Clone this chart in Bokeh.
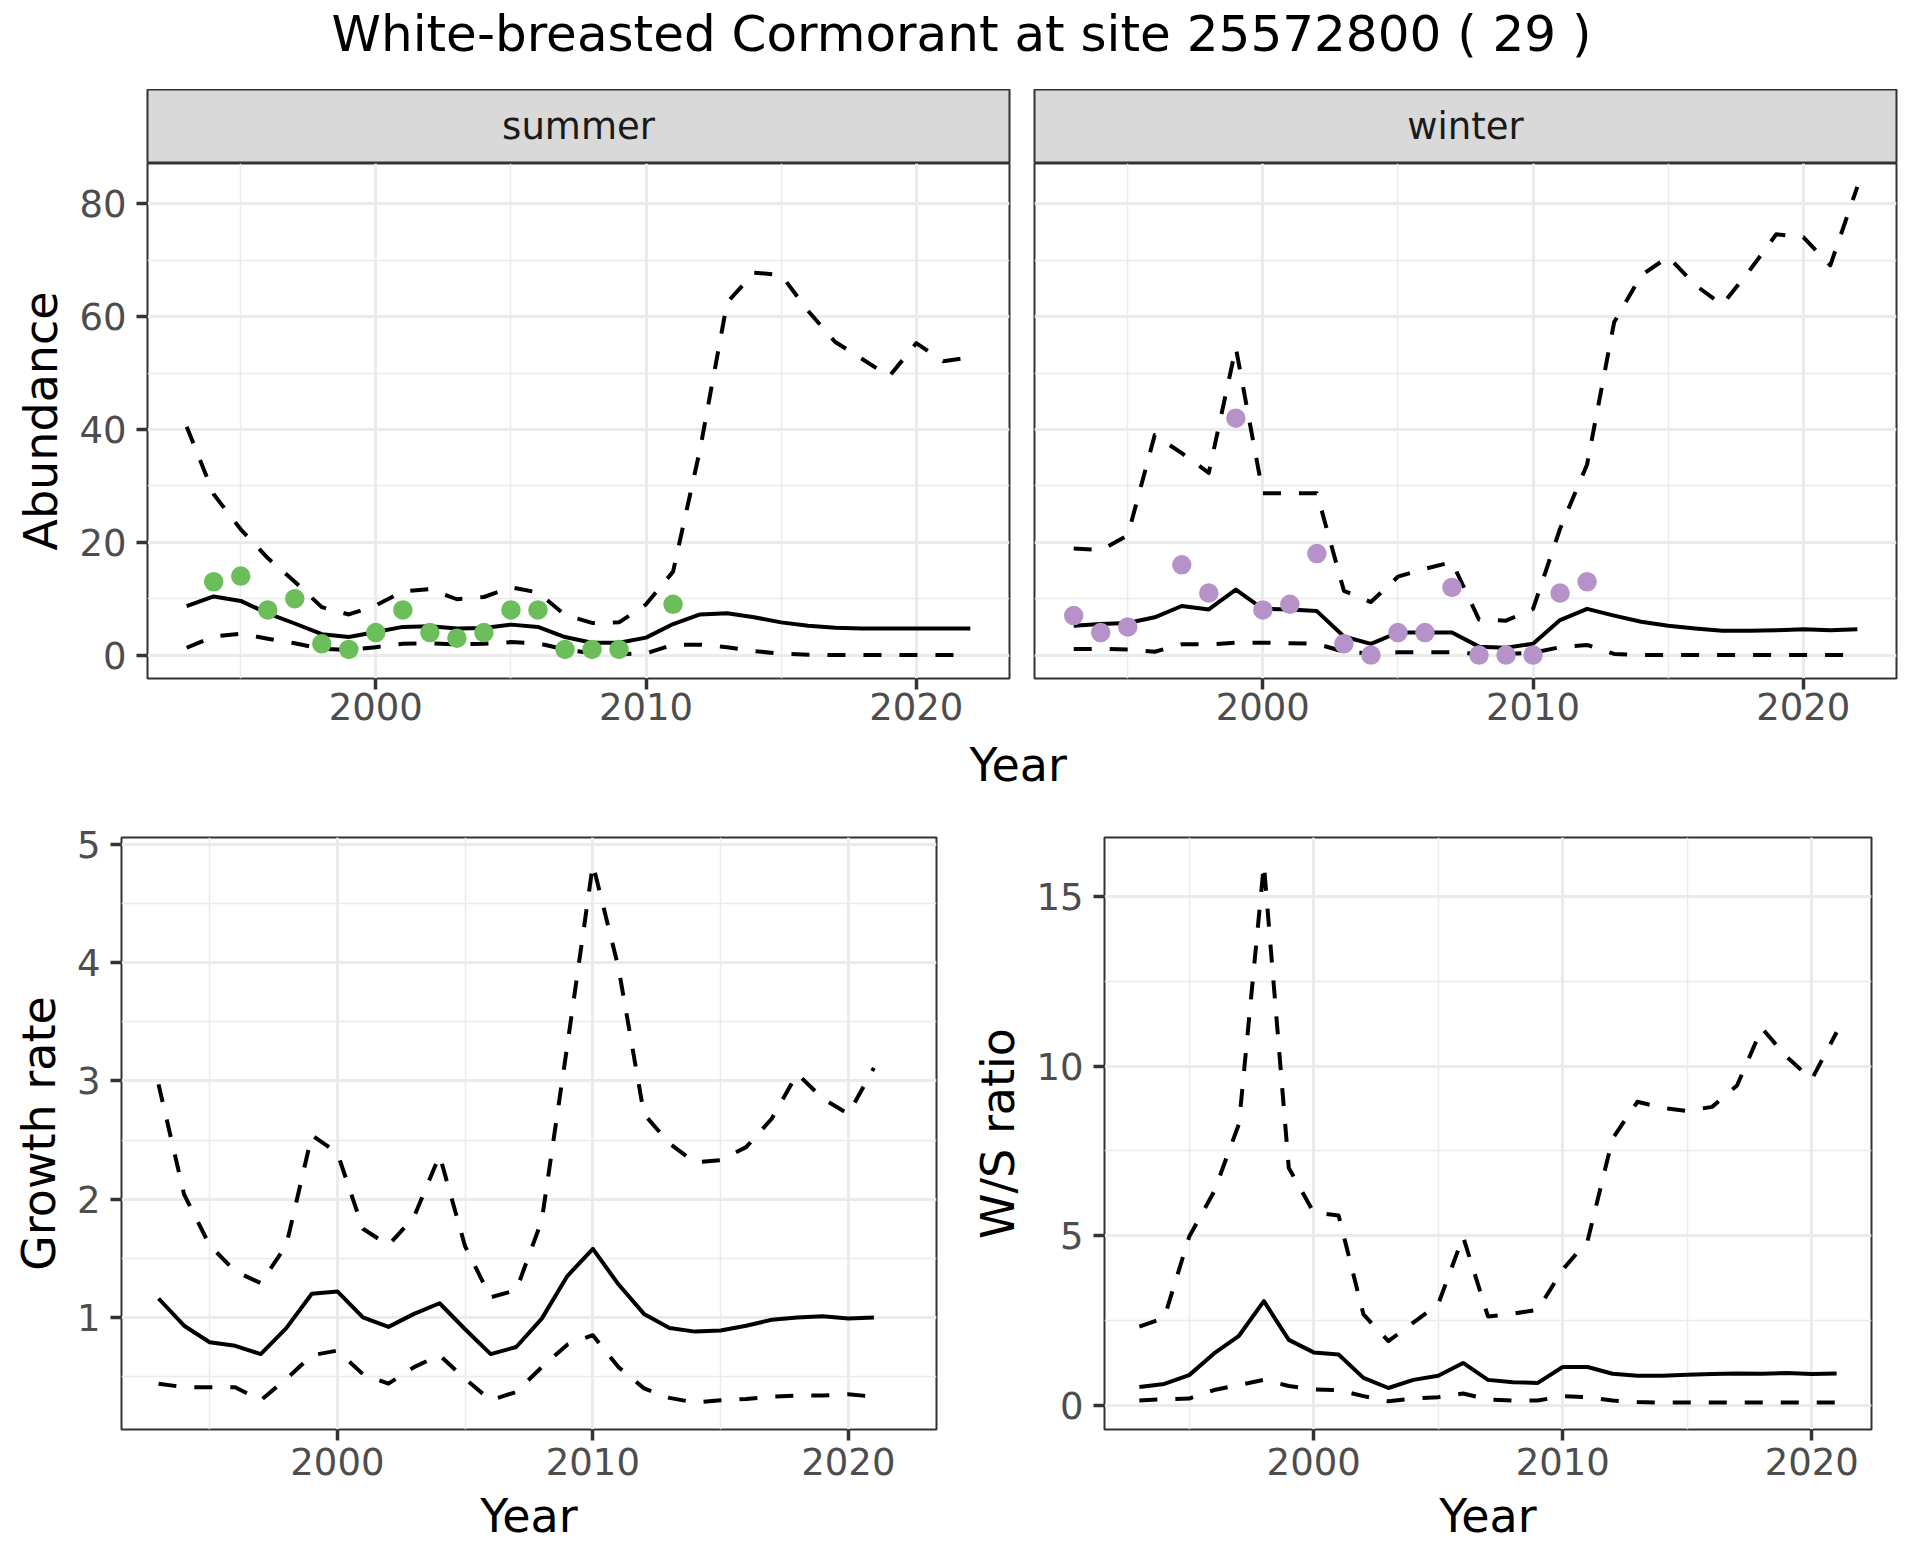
from bokeh.plotting import figure
from bokeh.models import Range1d, FixedTicker, Label
from bokeh.layouts import column, row
from bokeh.embed import file_html
from bokeh.resources import INLINE

# ---------------- data ----------------
title_text = "White-breasted Cormorant at site 25572800 ( 29 )"
facet_labels = ["summer", "winter"]

years = list(range(1993, 2023))
ratio_years = list(range(1993, 2022))

summer_mean = [8.7, 10.4, 9.6, 7.4, 5.6, 3.7, 3.2, 4.1, 5.0, 5.1, 4.7, 4.8, 5.4, 5.0, 3.2,
               2.2, 2.2, 3.1, 5.5, 7.2, 7.4, 6.7, 5.8, 5.2, 4.85, 4.7, 4.7, 4.7, 4.7, 4.7]
summer_upper = [40.5, 28.5, 22.3, 17.2, 13.0, 8.5, 7.2, 8.8, 11.3, 11.7, 9.9, 10.3, 12.0, 11.1, 7.1,
                5.7, 5.8, 9.0, 14.8, 36.5, 62.5, 67.8, 67.4, 61.0, 55.5, 52.5, 49.4, 55.3, 52.1, 52.8]
summer_lower = [1.3, 3.3, 3.8, 2.9, 2.1, 1.1, 0.9, 1.4, 2.0, 2.1, 1.9, 2.0, 2.3, 2.1, 1.0,
                0.35, 0.15, 0.3, 1.85, 1.85, 1.4, 0.7, 0.25, 0.05, 0.0, 0.0, 0.0, 0.0, 0.0, 0.0]
summer_obs_year = [1994, 1995, 1996, 1997, 1998, 1999, 2000, 2001, 2002, 2003, 2004, 2005,
                   2006, 2007, 2008, 2009, 2011]
summer_obs = [13, 14, 8, 10, 2, 1, 4, 8, 4, 3, 4, 8, 8, 1, 1, 1, 9]

winter_mean = [5.2, 5.5, 5.7, 6.7, 8.7, 8.1, 11.6, 8.2, 8.1, 7.8, 3.3, 2.0, 4.0, 4.0, 4.0,
               1.5, 1.3, 2.0, 6.2, 8.2, 7.0, 5.9, 5.2, 4.7, 4.3, 4.3, 4.4, 4.6, 4.4, 4.6]
winter_upper = [18.9, 18.6, 21.2, 39.0, 35.8, 32.3, 54.5, 28.7, 28.7, 28.7, 11.4, 9.4, 13.9, 15.3, 16.5,
                6.3, 6.1, 8.2, 22.4, 33.8, 59.0, 67.3, 70.6, 65.6, 62.1, 68.1, 74.6, 74.1, 69.1, 83.0]
winter_lower = [1.1, 1.1, 1.0, 0.6, 1.9, 1.9, 2.2, 2.2, 2.1, 2.0, 0.6, 0.3, 0.5, 0.5, 0.5,
                0.2, 0.2, 0.4, 1.4, 1.8, 0.2, 0.0, 0.0, 0.0, 0.0, 0.0, 0.0, 0.0, 0.0, 0.0]
winter_obs_year = [1993, 1994, 1995, 1997, 1998, 1999, 2000, 2001, 2002, 2003, 2004, 2005,
                   2006, 2007, 2008, 2009, 2010, 2011, 2012]
winter_obs = [7, 4, 5, 16, 11, 42, 8, 9, 18, 2, 0, 4, 4, 12, 0, 0, 0, 11, 13]

growth_mean = [1.16, 0.93, 0.79, 0.76, 0.69, 0.91, 1.20, 1.22, 1.00, 0.92, 1.03, 1.12, 0.90, 0.69, 0.75,
               0.99, 1.35, 1.58, 1.28, 1.03, 0.91, 0.88, 0.89, 0.93, 0.98, 1.00, 1.01, 0.99, 1.00]
growth_upper = [2.97, 2.04, 1.61, 1.39, 1.29, 1.61, 2.54, 2.39, 1.75, 1.61, 1.85, 2.37, 1.60, 1.17, 1.23,
                1.82, 3.30, 4.83, 3.96, 2.72, 2.47, 2.31, 2.33, 2.44, 2.68, 3.06, 2.85, 2.72, 3.11]
growth_lower = [0.44, 0.41, 0.41, 0.41, 0.30, 0.48, 0.68, 0.72, 0.52, 0.44, 0.58, 0.68, 0.48, 0.30, 0.37,
                0.58, 0.77, 0.85, 0.58, 0.40, 0.32, 0.28, 0.30, 0.31, 0.33, 0.34, 0.34, 0.35, 0.33]

ws_mean = [0.54, 0.63, 0.89, 1.53, 2.05, 3.07, 1.93, 1.56, 1.50, 0.81, 0.51, 0.75, 0.87, 1.25, 0.75,
           0.68, 0.66, 1.13, 1.13, 0.93, 0.87, 0.87, 0.90, 0.92, 0.94, 0.93, 0.95, 0.92, 0.94]
ws_upper = [2.32, 2.58, 4.97, 6.3, 8.3, 15.95, 7.0, 5.69, 5.6, 2.68, 1.89, 2.44, 2.98, 4.97, 2.62,
            2.70, 2.82, 4.0, 4.85, 7.86, 8.95, 8.77, 8.68, 8.8, 9.43, 11.12, 10.27, 9.61, 11.0]
ws_lower = [0.14, 0.18, 0.20, 0.45, 0.60, 0.75, 0.57, 0.47, 0.45, 0.27, 0.12, 0.20, 0.24, 0.35, 0.17,
            0.14, 0.14, 0.27, 0.24, 0.14, 0.10, 0.08, 0.08, 0.08, 0.08, 0.08, 0.08, 0.08, 0.08]

x_major = [2000, 2010, 2020]
x_minor = [1995, 2005, 2015]
abund_major = [0, 20, 40, 60, 80]
abund_minor = [10, 30, 50, 70]
growth_major = [1, 2, 3, 4, 5]
growth_minor = [0.5, 1.5, 2.5, 3.5, 4.5]
ws_major = [0, 5, 10, 15]
ws_minor = [2.5, 7.5, 12.5]

# ---------------- style ----------------
FONT = "DejaVu Sans"
GREEN = "#6BBE5A"
PURPLE = "#B692C8"
BORDER = "#333333"
GRID = "#EBEBEB"
TICKTXT = "#4D4D4D"
DASH = "18 18"
LW = 4


def expanded(vals, frac=0.05):
    lo, hi = min(vals), max(vals)
    pad = (hi - lo) * frac
    return lo - pad, hi + pad


x_top = expanded(years)          # abundance facets and growth rate
x_ratio = expanded(ratio_years)  # W/S ratio panel
top_y = expanded(summer_upper + summer_lower + winter_upper + winter_lower + summer_obs + winter_obs)
g_y = expanded(growth_upper + growth_lower)
w_y = expanded(ws_upper + ws_lower)


def blank(w, h, mbl=0, mbr=0, xr=(0, 1), yr=(0, 1)):
    p = figure(width=w, height=h, x_range=Range1d(*xr), y_range=Range1d(*yr),
               min_border_left=mbl, min_border_right=mbr, min_border_top=0, min_border_bottom=0,
               toolbar_location=None, output_backend="svg", title=None,
               x_axis_location=None, y_axis_location=None)
    p.grid.visible = False
    p.outline_line_color = None
    p.border_fill_color = "white"
    p.background_fill_color = "white"
    return p


def panel(w, h, xr, yr, mbl, mbr, mbt, mbb, ymaj, ymin, ylabel=None, show_y=True, xlabel=None,
          x_standoff=7):
    p = figure(width=w, height=h, x_range=Range1d(*xr), y_range=Range1d(*yr),
               min_border_left=mbl, min_border_right=mbr, min_border_top=mbt, min_border_bottom=mbb,
               toolbar_location=None, output_backend="svg", title=None)
    xt = FixedTicker(ticks=x_major, minor_ticks=x_minor)
    yt = FixedTicker(ticks=ymaj, minor_ticks=ymin)
    p.xaxis.ticker = xt
    p.yaxis.ticker = yt
    p.xgrid.ticker = xt
    p.ygrid.ticker = yt
    for g in (p.xgrid, p.ygrid):
        g.grid_line_color = GRID
        g.grid_line_width = 3
        g.minor_grid_line_color = GRID
        g.minor_grid_line_width = 1.5
    p.outline_line_color = BORDER
    p.outline_line_width = 2
    p.background_fill_color = "white"
    for ax in (p.xaxis, p.yaxis):
        ax.axis_line_color = None
        ax.major_tick_line_color = BORDER
        ax.major_tick_line_width = 3.5
        ax.major_tick_out = 11
        ax.major_tick_in = 0
        ax.minor_tick_line_color = None
        ax.major_label_text_font = FONT
        ax.major_label_text_font_size = "37px"
        ax.major_label_text_color = TICKTXT
        ax.axis_label_text_font = FONT
        ax.axis_label_text_font_size = "46px"
        ax.axis_label_text_font_style = "normal"
        ax.axis_label_text_color = "black"
    p.yaxis.major_label_standoff = 10
    p.yaxis.axis_label_standoff = 8
    p.xaxis.major_label_standoff = x_standoff
    p.xaxis.axis_label_standoff = 11
    if ylabel:
        p.yaxis.axis_label = ylabel
    if xlabel:
        p.xaxis.axis_label = xlabel
    if not show_y:
        p.yaxis.visible = False
    return p


def bands(p, xs, mean, lo, hi):
    p.line(xs, hi, line_color="black", line_width=LW, line_dash=DASH, line_join="round")
    p.line(xs, lo, line_color="black", line_width=LW, line_dash=DASH, line_join="round")
    p.line(xs, mean, line_color="black", line_width=LW, line_join="round")


def strip(w, h, mbl, mbr, label):
    s = blank(w, h, mbl, mbr)
    s.background_fill_color = "#D9D9D9"
    s.outline_line_color = BORDER
    s.outline_line_width = 2
    s.add_layout(Label(x=0.5, y=0.5, text=label, text_align="center", text_baseline="middle",
                       text_font=FONT, text_font_size="37px", text_color="#1A1A1A"))
    return s


# ---------------- title ----------------
title_fig = blank(1920, 89, xr=(0, 1920), yr=(0, 89))
title_fig.add_layout(Label(x=331, y=55.5, text=title_text, text_align="left",
                           text_baseline="middle", text_font=FONT, text_font_size="50px",
                           text_color="black"))

# ---------------- top row: abundance facets ----------------
strip_s = strip(1022, 74, 147, 13, facet_labels[0])
strip_w = strip(898, 74, 12, 24, facet_labels[1])

p_s = panel(1022, 572, x_top, top_y, 147, 13, 0, 57, abund_major, abund_minor, ylabel="Abundance",
            x_standoff=3)
bands(p_s, years, summer_mean, summer_lower, summer_upper)
p_s.scatter(summer_obs_year, summer_obs, size=19.5, fill_color=GREEN, line_color=None)

p_w = panel(898, 572, x_top, top_y, 12, 24, 0, 57, abund_major, abund_minor, show_y=False,
            x_standoff=3)
bands(p_w, years, winter_mean, winter_lower, winter_upper)
p_w.scatter(winter_obs_year, winter_obs, size=19.5, fill_color=PURPLE, line_color=None)

year_fig = blank(1920, 65, xr=(0, 1920), yr=(0, 65))
year_fig.add_layout(Label(x=969, y=36, text="Year", text_align="left", text_baseline="middle",
                          text_font=FONT, text_font_size="46px", text_color="black"))

# ---------------- bottom row ----------------
p_g = panel(968, 755, x_top, g_y, 121, 32, 37, 126, growth_major, growth_minor,
            ylabel="Growth rate", xlabel="Year")
bands(p_g, ratio_years, growth_mean, growth_lower, growth_upper)

p_r = panel(952, 755, x_ratio, w_y, 136, 49, 37, 126, ws_major, ws_minor,
            ylabel="W/S ratio", xlabel="Year")
bands(p_r, ratio_years, ws_mean, ws_lower, ws_upper)

layout = column(
    title_fig,
    row(column(strip_s, p_s), column(strip_w, p_w)),
    year_fig,
    row(p_g, p_r),
)

open("out.html", "w").write(file_html(layout, INLINE))
